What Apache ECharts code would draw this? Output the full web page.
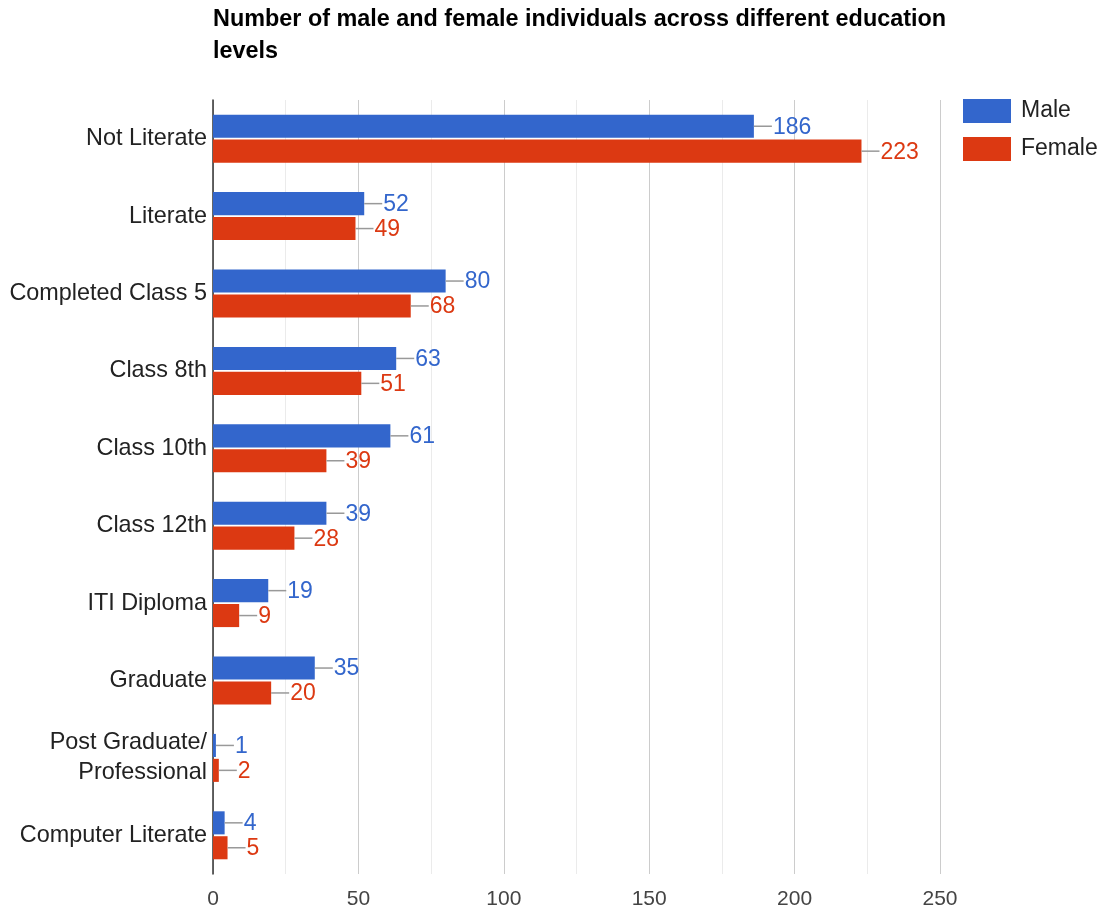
<!DOCTYPE html>
<html>
<head>
<meta charset="utf-8">
<script src="https://cdn.jsdelivr.net/npm/echarts@6/dist/echarts.min.js"></script>
<style>html,body{margin:0;padding:0;background:#fff}#c{width:1101px;height:913px}</style>
</head>
<body>
<div id="c"></div>
<script>
const titleText = "Number of male and female individuals across different education\nlevels";
const categories = ["Not Literate","Literate","Completed Class 5","Class 8th","Class 10th","Class 12th","ITI Diploma","Graduate","Post Graduate/\nProfessional","Computer Literate"];
const maleValues = [186,52,80,63,61,39,19,35,1,4];
const femaleValues = [223,49,68,51,39,28,9,20,2,5];
const seriesNames = ["Male","Female"];
const xTicks = [0,50,100,150,200,250];

const FONT = '"Liberation Sans", Arial, sans-serif';
const BLUE = '#3366cc', RED = '#dc3912';

function lbl(color){
  return {
    show: true, position: 'right', distance: 0,
    formatter: p => '{l|}{v|' + p.value + '}',
    rich: {
      l: {width: 18, height: 1.5, backgroundColor: '#999', verticalAlign: 'middle'},
      v: {color: color, fontSize: 23, fontFamily: FONT, verticalAlign: 'middle', padding:[2,0,0,1]}
    }
  };
}

const chart = echarts.init(document.getElementById('c'), null, {renderer:'canvas'});
chart.setOption({
  animation: false,
  textStyle: {fontFamily: FONT},
  title: {
    text: titleText, left: 213, top: 4, padding: 0,
    textStyle: {fontSize: 23.4, fontWeight: 'bold', color: '#000', fontFamily: FONT, lineHeight: 32}
  },
  legend: {
    orient: 'vertical', left: 963, top: 99, padding: 0,
    itemWidth: 48, itemHeight: 24, itemGap: 14, icon: 'rect',
    textStyle: {fontSize: 23, color: '#222', fontFamily: FONT, padding: [3, 0, 0, 5]},
    data: seriesNames
  },
  grid: {left: 213, right: 161, top: 100, bottom: 39, containLabel: false},
  xAxis: {
    type: 'value', min: xTicks[0], max: xTicks[xTicks.length-1], interval: 50,
    axisLine: {show: false}, axisTick: {show: false},
    axisLabel: {fontSize: 21, color: '#444', fontFamily: FONT, margin: 15},
    splitLine: {show: true, lineStyle: {color: '#cccccc', width: 1}},
    minorTick: {show: false, splitNumber: 2},
    minorSplitLine: {show: true, lineStyle: {color: '#ebebeb', width: 1}}
  },
  yAxis: {
    type: 'category', data: categories, inverse: true,
    axisLine: {show: true, lineStyle: {color: '#333', width: 1.5}},
    axisTick: {show: false},
    axisLabel: {fontSize: 23.4, color: '#222', fontFamily: FONT, margin: 6, lineHeight: 30, align: 'right', padding: [4, 0, 0, 0]}
  },
  series: [
    {name: seriesNames[0], type: 'bar', data: maleValues, itemStyle: {color: BLUE},
     barCategoryGap: '38%', barGap: '8%', label: lbl(BLUE)},
    {name: seriesNames[1], type: 'bar', data: femaleValues, itemStyle: {color: RED},
     barCategoryGap: '38%', barGap: '8%', label: lbl(RED)}
  ]
});
</script>
</body>
</html>
